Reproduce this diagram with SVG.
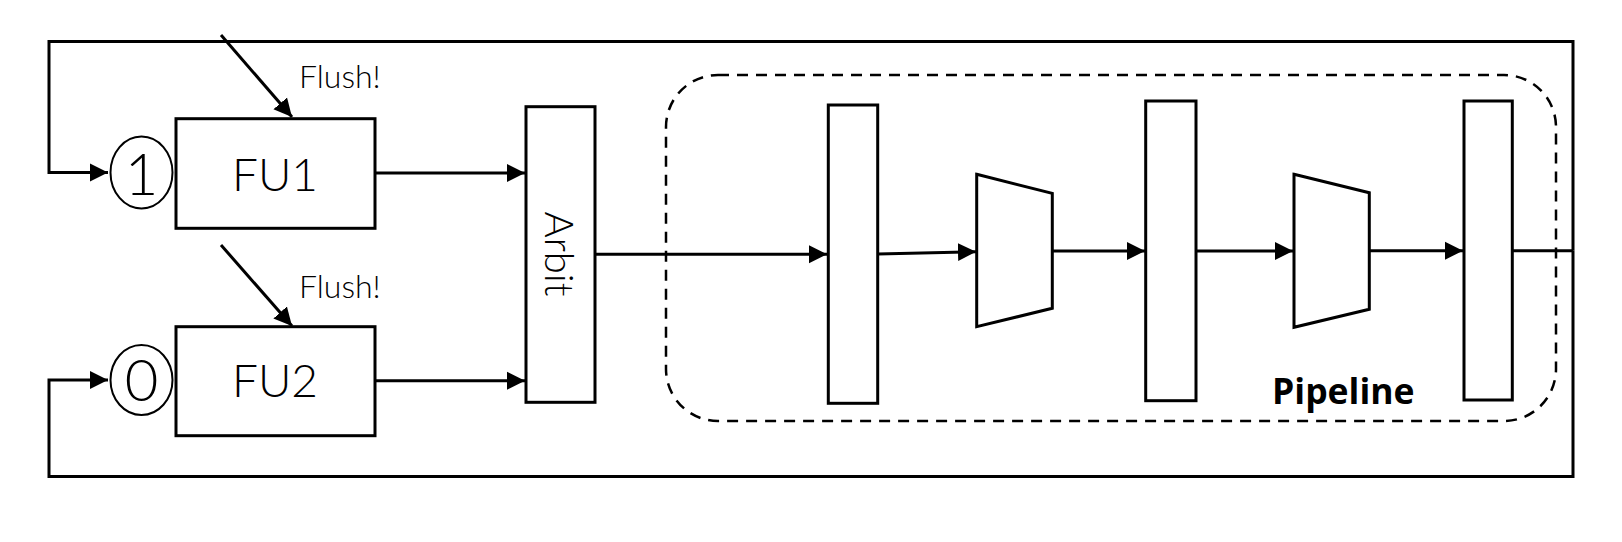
<svg xmlns="http://www.w3.org/2000/svg" width="1622" height="542" viewBox="0 0 1622 542">
<style>
.ln{fill:none;stroke:#000;stroke-width:3}
.bx{fill:#fff;stroke:#000;stroke-width:3}
.lt{font-family:"Lato","Open Sans","Liberation Sans",sans-serif;font-weight:300;fill:#000}
</style>
<defs>
<marker id="ah" markerUnits="userSpaceOnUse" markerWidth="20" markerHeight="20" viewBox="0 0 20 20" refX="18" refY="10" orient="auto">
<path d="M0,1 L18,10 L0,19 Z" fill="#000"/>
</marker>
</defs>
<rect width="1622" height="542" fill="#fff"/>
<g id="connectors">
<path class="ln" d="M1573,250.7 V41.5 H49 V172.5 H108" marker-end="url(#ah)"/>
<path class="ln" d="M1573,250.7 V476.5 H49 V380 H108" marker-end="url(#ah)"/>
<path class="ln" d="M221,35 L292,117" marker-end="url(#ah)"/>
<path class="ln" d="M221,245 L292,326" marker-end="url(#ah)"/>
<path class="ln" d="M375,173 H525" marker-end="url(#ah)"/>
<path class="ln" d="M375,380.7 H525" marker-end="url(#ah)"/>
<path class="ln" d="M595,254.3 H827" marker-end="url(#ah)"/>
<path class="ln" d="M878,254 L976,251.7" marker-end="url(#ah)"/>
<path class="ln" d="M1052,251 H1145" marker-end="url(#ah)"/>
<path class="ln" d="M1196,251 H1293" marker-end="url(#ah)"/>
<path class="ln" d="M1369,250.7 H1463" marker-end="url(#ah)"/>
<path class="ln" d="M1512,250.7 H1573"/>
</g>
<g id="pipeline">
<rect x="666" y="75" width="890" height="346" rx="52" ry="52" fill="none" stroke="#000" stroke-width="2.5" stroke-dasharray="11,8"/>
<text x="1272" y="404" font-family="'Open Sans','Noto Sans',sans-serif" font-weight="bold" font-size="35.5">Pipeline</text>
</g>
<g id="sel1">
<ellipse cx="141.5" cy="172.5" rx="31" ry="36" fill="#fff" stroke="#000" stroke-width="2"/>
<text class="lt" x="141.5" y="195" font-size="58" text-anchor="middle">1</text>
</g>
<g id="sel0">
<ellipse cx="141.5" cy="380" rx="31" ry="35" fill="#fff" stroke="#000" stroke-width="2"/>
<text class="lt" x="141.5" y="401" font-size="58" text-anchor="middle">0</text>
</g>
<g id="fu1">
<rect class="bx" x="176" y="118.7" width="199" height="109.6"/>
<text class="lt" x="275" y="190.5" font-size="46" text-anchor="middle">FU1</text>
<text class="lt" x="299" y="88" font-size="32">Flush!</text>
</g>
<g id="fu2">
<rect class="bx" x="176" y="326.7" width="199" height="109"/>
<text class="lt" x="275" y="396.5" font-size="46" text-anchor="middle">FU2</text>
<text class="lt" x="299" y="297.5" font-size="32">Flush!</text>
</g>
<g id="arbit">
<rect class="bx" x="526" y="106.7" width="69" height="295.6"/>
<text class="lt" font-size="40" text-anchor="middle" transform="translate(545,254) rotate(90)">Arbit</text>
</g>
<g id="reg1"><rect class="bx" x="828.3" y="105" width="49.4" height="298.3"/></g>
<g id="alu1"><path class="bx" d="M976.7,174.3 L1052.3,193.3 L1052.3,308.3 L976.7,326.7 Z"/></g>
<g id="reg2"><rect class="bx" x="1145.7" y="101" width="50.3" height="299.7"/></g>
<g id="alu2"><path class="bx" d="M1294,174.3 L1369.3,192.7 L1369.3,309.3 L1294,327.3 Z"/></g>
<g id="reg3"><rect class="bx" x="1464" y="101" width="48.3" height="299"/></g>
</svg>
